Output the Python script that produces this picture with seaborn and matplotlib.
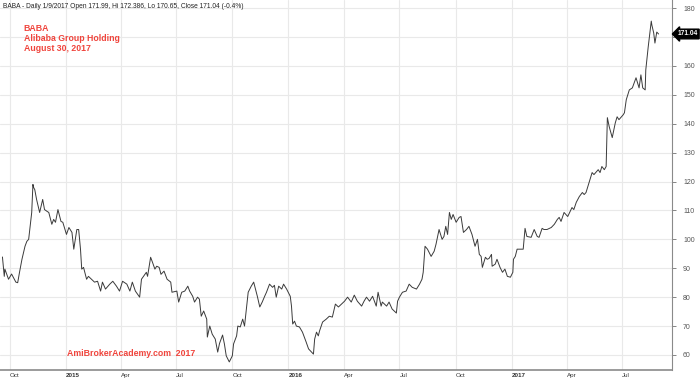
import pandas as pd
import matplotlib
matplotlib.use("Agg")
import matplotlib.pyplot as plt
import seaborn as sns

# BABA daily close
dates = [
    "2014-09-19", "2014-09-22", "2014-09-23", "2014-09-26", "2014-09-29", "2014-10-04", "2014-10-11",
    "2014-10-14", "2014-10-17", "2014-10-21", "2014-10-26", "2014-10-29", "2014-11-01", "2014-11-06",
    "2014-11-08", "2014-11-09", "2014-11-11", "2014-11-14", "2014-11-19", "2014-11-24", "2014-11-27",
    "2014-12-01", "2014-12-04", "2014-12-09", "2014-12-12", "2014-12-15", "2014-12-19", "2014-12-24",
    "2014-12-27", "2015-01-02", "2015-01-06", "2015-01-11", "2015-01-14", "2015-01-19", "2015-01-22",
    "2015-01-25", "2015-01-27", "2015-01-30", "2015-02-04", "2015-02-07", "2015-02-12", "2015-02-17",
    "2015-02-22", "2015-02-27", "2015-03-02", "2015-03-07", "2015-03-14", "2015-03-19", "2015-03-25",
    "2015-03-30", "2015-04-04", "2015-04-11", "2015-04-16", "2015-04-20", "2015-04-25", "2015-05-02",
    "2015-05-05", "2015-05-13", "2015-05-15", "2015-05-20", "2015-05-23", "2015-05-27", "2015-05-30",
    "2015-06-03", "2015-06-06", "2015-06-11", "2015-06-16", "2015-06-22", "2015-06-24", "2015-07-02",
    "2015-07-05", "2015-07-10", "2015-07-15", "2015-07-20", "2015-07-23", "2015-07-28", "2015-07-31",
    "2015-08-05", "2015-08-08", "2015-08-11", "2015-08-15", "2015-08-20", "2015-08-21", "2015-08-25",
    "2015-08-29", "2015-09-03", "2015-09-07", "2015-09-10", "2015-09-15", "2015-09-18", "2015-09-21",
    "2015-09-26", "2015-10-01", "2015-10-03", "2015-10-08", "2015-10-10", "2015-10-14", "2015-10-18",
    "2015-10-21", "2015-10-24", "2015-10-27", "2015-11-01", "2015-11-05", "2015-11-08", "2015-11-11",
    "2015-11-15", "2015-11-19", "2015-11-23", "2015-11-26", "2015-12-01", "2015-12-06", "2015-12-09",
    "2015-12-12", "2015-12-16", "2015-12-21", "2015-12-24", "2015-12-29", "2016-01-04", "2016-01-06",
    "2016-01-08", "2016-01-11", "2016-01-14", "2016-01-19", "2016-01-24", "2016-01-30", "2016-02-03",
    "2016-02-08", "2016-02-11", "2016-02-13", "2016-02-16", "2016-02-19", "2016-02-21", "2016-02-26",
    "2016-03-03", "2016-03-08", "2016-03-13", "2016-03-18", "2016-03-23", "2016-03-28", "2016-04-02",
    "2016-04-07", "2016-04-13", "2016-04-18", "2016-04-23", "2016-04-30", "2016-05-04", "2016-05-08",
    "2016-05-13", "2016-05-18", "2016-05-24", "2016-05-27", "2016-06-01", "2016-06-03", "2016-06-10",
    "2016-06-14", "2016-06-19", "2016-06-26", "2016-06-28", "2016-07-01", "2016-07-06", "2016-07-12",
    "2016-07-17", "2016-07-22", "2016-07-29", "2016-08-03", "2016-08-07", "2016-08-09", "2016-08-12",
    "2016-08-16", "2016-08-22", "2016-08-27", "2016-08-30", "2016-09-04", "2016-09-09", "2016-09-12",
    "2016-09-15", "2016-09-18", "2016-09-21", "2016-09-24", "2016-09-27", "2016-10-02", "2016-10-07",
    "2016-10-10", "2016-10-14", "2016-10-19", "2016-10-23", "2016-10-28", "2016-11-02", "2016-11-06",
    "2016-11-09", "2016-11-12", "2016-11-14", "2016-11-19", "2016-11-22", "2016-11-25", "2016-11-29",
    "2016-11-30", "2016-12-05", "2016-12-08", "2016-12-13", "2016-12-17", "2016-12-21", "2016-12-25",
    "2016-12-30", "2017-01-03", "2017-01-04", "2017-01-07", "2017-01-10", "2017-01-17", "2017-01-20",
    "2017-01-23", "2017-01-26", "2017-02-02", "2017-02-07", "2017-02-12", "2017-02-15", "2017-02-20",
    "2017-02-23", "2017-02-28", "2017-03-07", "2017-03-12", "2017-03-17", "2017-03-20", "2017-03-23",
    "2017-03-28", "2017-04-03", "2017-04-10", "2017-04-13", "2017-04-17", "2017-04-22", "2017-04-27",
    "2017-04-30", "2017-05-03", "2017-05-08", "2017-05-13", "2017-05-16", "2017-05-20", "2017-05-23",
    "2017-05-26", "2017-05-29", "2017-06-02", "2017-06-05", "2017-06-07", "2017-06-10", "2017-06-15",
    "2017-06-20", "2017-06-23", "2017-06-26", "2017-07-03", "2017-07-05", "2017-07-08", "2017-07-13",
    "2017-07-18", "2017-07-21", "2017-07-24", "2017-07-29", "2017-08-01", "2017-08-04", "2017-08-08",
    "2017-08-09", "2017-08-13", "2017-08-18", "2017-08-19", "2017-08-22", "2017-08-24", "2017-08-27",
    "2017-08-30",
]
close = [
    93.9, 87.2, 89.7, 88.0, 86.2, 88.0, 85.2,
    85.0, 88.6, 93.1, 97.6, 99.3, 100.0, 109.3,
    119.0, 118.0, 117.2, 113.8, 109.3, 113.8, 110.3,
    109.7, 109.3, 105.2, 106.9, 105.9, 110.3, 106.2,
    105.9, 101.7, 104.1, 102.4, 96.6, 103.4, 103.4,
    96.6, 89.7, 90.3, 86.2, 87.2, 86.2, 85.2,
    85.5, 82.1, 85.2, 82.8, 84.5, 85.5, 83.8,
    82.1, 85.5, 84.5, 82.1, 85.2, 82.1, 80.0,
    86.2, 88.6, 87.2, 93.8, 92.1, 89.7, 90.7,
    90.3, 87.9, 89.0, 86.2, 85.2, 81.7, 82.1,
    78.3, 81.7, 82.1, 83.8, 82.1, 80.3, 78.3,
    80.0, 79.3, 73.4, 75.2, 72.4, 66.2, 70.0,
    67.2, 65.5, 61.0, 64.0, 66.9, 63.8, 59.7,
    57.6, 59.7, 63.8, 66.6, 70.0, 69.7, 72.4,
    70.0, 75.9, 81.7, 83.8, 85.2, 82.8, 80.3,
    76.6, 78.3, 80.3, 81.7, 84.5, 83.4, 84.1,
    80.0, 83.8, 82.8, 84.5, 82.8, 80.3, 76.9,
    70.7, 71.7, 70.0, 69.7, 67.9, 64.5, 62.1,
    61.0, 60.3, 65.5, 67.9, 66.6, 68.3, 71.4,
    72.4, 73.4, 73.1, 77.6, 76.6, 77.6, 78.6,
    80.0, 78.3, 80.7, 78.6, 76.9, 78.6, 80.0,
    78.6, 80.3, 76.9, 81.7, 76.9, 78.3, 76.9,
    78.3, 75.9, 74.5, 78.6, 80.0, 81.7, 82.1,
    84.5, 83.4, 82.8, 84.5, 86.2, 88.6, 97.6,
    96.6, 94.1, 95.9, 98.3, 103.4, 100.0, 101.0,
    104.5, 101.7, 109.3, 106.9, 108.6, 105.9, 107.6,
    107.9, 102.4, 103.4, 104.5, 101.7, 97.6, 100.0,
    94.8, 94.1, 90.3, 93.8, 93.1, 93.4, 94.8,
    90.7, 91.4, 93.1, 90.3, 88.6, 89.7, 87.2,
    86.9, 88.6, 93.1, 94.1, 96.6, 96.6, 96.6,
    103.8, 101.0, 100.7, 103.4, 101.0, 100.7, 103.8,
    103.4, 103.4, 104.1, 105.2, 106.9, 107.6, 106.2,
    109.3, 107.9, 111.0, 110.3, 112.8, 114.8, 116.2,
    115.5, 116.2, 119.7, 123.1, 122.4, 123.4, 124.1,
    123.1, 125.2, 124.1, 125.2, 142.1, 139.0, 135.2,
    140.3, 142.4, 141.4, 143.1, 143.8, 148.3, 151.7,
    152.4, 154.1, 155.9, 152.4, 156.9, 152.4, 151.7,
    158.6, 166.6, 175.5, 174.1, 171.4, 167.9, 171.7,
    171.04,
]

quarter_ticks = ["2014-10-01", "2015-01-01", "2015-04-01", "2015-07-01", "2015-10-01", "2016-01-01",
                 "2016-04-01", "2016-07-01", "2016-10-01", "2017-01-01", "2017-04-01", "2017-07-01"]
quarter_labels = ["Oct", "2015", "Apr", "Jul", "Oct", "2016", "Apr", "Jul", "Oct", "2017", "Apr", "Jul"]
price_ticks = [60, 70, 80, 90, 100, 110, 120, 130, 140, 150, 160, 170, 180]
# the 170 label sits under the last-price marker in the original, so it is left blank
price_labels = ["60", "70", "80", "90", "100", "110", "120", "130", "140", "150", "160", "", "180"]

df = pd.DataFrame({"Date": pd.to_datetime(dates), "Close": close})

sns.set_theme(style="white")
plt.rcParams['font.family'] = ['Liberation Sans', 'DejaVu Sans']

fig = plt.figure(figsize=(7, 3.78), dpi=100)
ax = fig.add_axes([0.0, 8 / 378, 672 / 700, 370 / 378])

sns.lineplot(data=df, x="Date", y="Close", ax=ax, color="#3a3a3a", linewidth=0.7)

ax.set_xlim(pd.Timestamp("2014-09-15"), pd.Timestamp("2017-09-21"))
ax.set_ylim(54.8, 182.8)

ax.set_xticks(pd.to_datetime(quarter_ticks))
ax.set_xticklabels(quarter_labels)
for lbl, txt in zip(ax.get_xticklabels(), quarter_labels):
    lbl.set_horizontalalignment("left")
    if txt.isdigit():
        lbl.set_fontweight("bold")
ax.tick_params(axis="x", labelsize=4.5, colors="#333333", length=2.5, width=0.6, pad=0, direction="out")

ax.yaxis.tick_right()
ax.set_yticks(price_ticks)
ax.set_yticklabels(price_labels)
ax.tick_params(axis="y", labelsize=5, labelcolor="#555555", color="#555555",
               length=3, width=0.5, pad=5)

ax.grid(True, color="#e9e9e9", linewidth=0.8)
ax.set_xlabel("")
ax.set_ylabel("")

for side in ["top", "left"]:
    ax.spines[side].set_visible(False)
ax.spines["bottom"].set_color("#8a8a8a")
ax.spines["bottom"].set_linewidth(1.2)
ax.spines["right"].set_color("#8a8a8a")
ax.spines["right"].set_linewidth(0.8)

fig.text(0.004, 0.993, "BABA - Daily 1/9/2017 Open 171.99, Hi 172.386, Lo 170.65, Close 171.04 (-0.4%)",
         fontsize=4.8, color="#222222", va="top", ha="left")

red = "#f0443c"
ax.text(0.035, 0.935, "BABA\nAlibaba Group Holding\nAugust 30, 2017", transform=ax.transAxes,
        fontsize=6.3, color=red, fontweight="bold", va="top", ha="left", linespacing=1.15)
ax.text(0.1, 0.045, "AmiBrokerAcademy.com  2017", transform=ax.transAxes,
        fontsize=6.3, color=red, fontweight="bold", va="center", ha="left")

# last value marker on the price axis
ax.annotate(f"{close[-1]:.2f}", xy=(1.0, close[-1]), xycoords=("axes fraction", "data"),
            xytext=(4, 0), textcoords="offset points", fontsize=4.8, color="white",
            fontweight="bold", va="center", ha="left", zorder=10,
            bbox=dict(boxstyle="larrow,pad=0.2", fc="black", ec="black"))

fig.savefig("out.png", dpi=100)
